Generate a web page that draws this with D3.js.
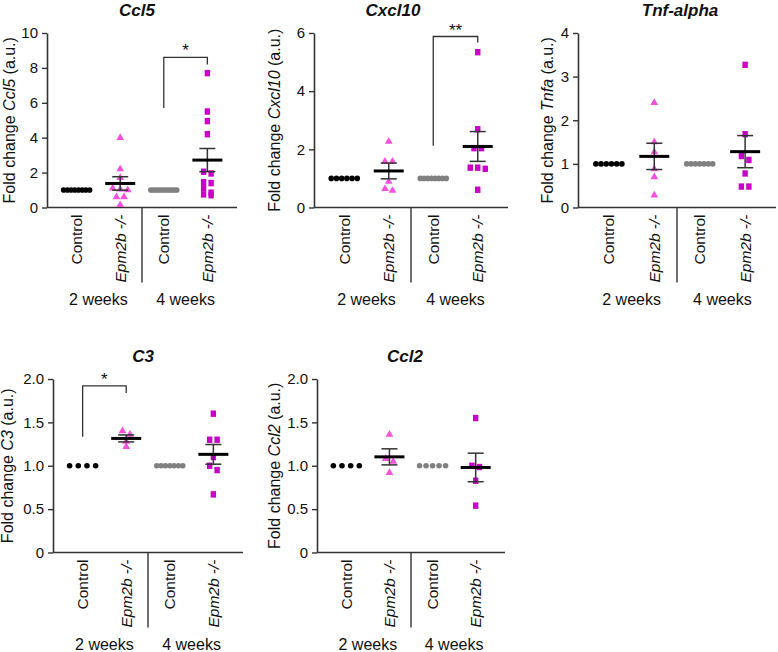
<!DOCTYPE html>
<html>
<head>
<meta charset="utf-8">
<script src="https://cdn.jsdelivr.net/npm/d3@7"></script>
<style>
body { margin:0; background:#fff; }
svg text { font-family: "Liberation Sans", Arial, sans-serif; fill:#111; }
</style>
</head>
<body>
<svg id="chart" width="778" height="652"></svg>
<script>
// ---------- data ----------
const groups = ["Control", "Epm2b -/-", "Control", "Epm2b -/-"];
const ages = ["2 weeks", "4 weeks"];
const genes = ["Ccl5", "Cxcl10", "Tnf-alpha", "C3", "Ccl2"];
const labelGenes = ["Ccl5", "Cxcl10", "Tnfa", "C3", "Ccl2"];
const yMax = [10, 6, 4, 2, 2];
const yTicks = [[0,2,4,6,8,10], [0,2,4,6], [0,1,2,3,4], [0,0.5,1,1.5,2], [0,0.5,1,1.5,2]];

const ccl5 = [
    [1,1,1,1,1,1,1,1],
    [4.0,2.2,1.7,1.1,1.05,1.0,0.6,0.6,0.15],
    [1,1,1,1,1,1,1,1,1,1,1,1],
    [7.7,5.5,4.95,4.2,2.05,1.95,1.45,1.4,1.1,0.85,0.75,0.7]
];
const cxcl10 = [
    [1,1,1,1,1,1],
    [2.27,1.58,1.58,0.89,0.64,0.58],
    [1,1,1,1,1,1,1,1],
    [5.34,2.69,2.04,2.04,1.37,1.37,1.33,0.61]
];
const tnfa = [
    [1,1,1,1,1,1],
    [2.4,1.5,1.27,0.88,0.7,0.28],
    [1,1,1,1,1,1,1],
    [3.27,1.68,1.18,1.09,0.78,0.48,0.48]
];
const c3 = [
    [1,1,1,1],
    [1.40,1.36,1.28,1.22],
    [1,1,1,1,1,1,1],
    [1.6,1.3,1.3,1.1,1.0,0.95,0.67]
];
const ccl2 = [
    [1,1,1,1],
    [1.36,1.08,1.05,0.92],
    [1,1,1,1,1],
    [1.55,1.0,0.985,0.827,0.54]
];
const allData = [ccl5, cxcl10, tnfa, c3, ccl2];

// significance brackets (group indices, label, y values of the bracket)
const sigPanel = [0, 1, 3];
const sigFrom  = [2, 2, 0];
const sigTo    = [3, 3, 1];
const sigLabel = ["*", "**", "*"];
const sigBase  = [5.7, 2.12, 1.335];
const sigTop   = [8.6, 5.88, 1.92];
const sigEnd   = [8.2, 5.67, 1.84];

// ---------- layout ----------
const panels = [
    {left: 47,  top: 33,  width: 190, height: 174.5, labelGap: 32, titleX: 90},
    {left: 314, top: 33,  width: 194, height: 174.5, labelGap: 34, titleX: 79},
    {left: 578, top: 33,  width: 198, height: 174.5, labelGap: 25, titleX: 102},
    {left: 53,  top: 379, width: 190, height: 173.5, labelGap: 40, titleX: 90},
    {left: 317, top: 379, width: 188, height: 173.5, labelGap: 37, titleX: 88}
];
const AXISCOLOUR = "#333";
const DOTCOLOURS = ["#000", null, "#808080", null];
const TRICOLOUR = "#f550dc";
const SQCOLOUR = "#c800c8";

var svg = d3.select("#chart");

panels.forEach(function(p, pi){
    var g = svg.append("g").attr("transform", "translate(" + p.left + "," + p.top + ")");
    var h = p.height;

    var x = d3.scalePoint().domain([0,1,2,3]).range([0, p.width]).padding(0.68);
    var y = d3.scaleLinear().domain([0, yMax[pi]]).range([h, 0]);

    var yAxis = d3.axisLeft(y)
        .tickValues(yTicks[pi])
        .tickSize(5)
        .tickSizeOuter(0)
        .tickPadding(4)
        .tickFormat(function(d){
            if (d === 0) return "0";
            return yMax[pi] <= 2 ? d3.format(".1f")(d) : d;
        });

    var ya = g.append("g").call(yAxis);
    ya.select(".domain").attr("stroke", AXISCOLOUR).attr("stroke-width", 1.6);
    ya.selectAll(".tick line").attr("stroke", AXISCOLOUR).attr("stroke-width", 1.4);
    ya.selectAll(".tick text").attr("font-size", 15).attr("fill", "#111")
        .attr("font-family", "Liberation Sans, Arial, sans-serif");

    // x axis line
    g.append("line")
        .attr("x1", 0).attr("x2", p.width)
        .attr("y1", h).attr("y2", h)
        .attr("stroke", AXISCOLOUR).attr("stroke-width", 1.6);

    // divider between ages
    var mid = (x(1) + x(2)) / 2;
    g.append("line")
        .attr("x1", mid).attr("x2", mid)
        .attr("y1", h).attr("y2", h + 75)
        .attr("stroke", AXISCOLOUR).attr("stroke-width", 1.4);

    // category labels
    groups.forEach(function(name, i){
        var t = g.append("text")
            .attr("transform", "translate(" + x(i) + "," + (h + 7) + ") rotate(-90)")
            .attr("text-anchor", "end")
            .attr("dy", "0.35em")
            .attr("font-size", 15.5);
        if (name === "Control") {
            t.text(name);
        } else {
            t.attr("font-style", "italic").text(name);
        }
    });

    // age labels
    ages.forEach(function(a, k){
        g.append("text")
            .attr("x", (x(2*k) + x(2*k+1)) / 2)
            .attr("y", h + 97)
            .attr("text-anchor", "middle")
            .attr("font-size", 16)
            .text(a);
    });

    // title
    g.append("text")
        .attr("x", p.titleX)
        .attr("y", -17)
        .attr("text-anchor", "middle")
        .attr("font-size", 17)
        .attr("font-weight", "bold")
        .attr("font-style", "italic")
        .text(genes[pi]);

    // y label
    var yl = g.append("text")
        .attr("transform", "translate(" + (-p.labelGap) + "," + (h/2) + ") rotate(-90)")
        .attr("text-anchor", "middle")
        .attr("font-size", 16);
    yl.append("tspan").text("Fold change ");
    yl.append("tspan").attr("font-style", "italic").text(labelGenes[pi]);
    yl.append("tspan").text(" (a.u.)");

    // points
    allData[pi].forEach(function(vals, i){
        var cx = x(i);
        if (i === 0 || i === 2) {
            var n = vals.length;
            vals.forEach(function(v, j){
                var off = n > 1 ? (j - (n-1)/2) * 26 / (n-1) : 0;
                g.append("circle")
                    .attr("cx", cx + off)
                    .attr("cy", y(v))
                    .attr("r", 2.8)
                    .attr("fill", DOTCOLOURS[i]);
            });
            return;
        }
        // simple scatter packing: points close in y are put side by side
        var sorted = vals.slice().sort(function(a, b){ return b - a; });
        var clusters = [];
        sorted.forEach(function(v){
            var last = clusters[clusters.length - 1];
            if (last && Math.abs(y(v) - y(last[0])) < 5) last.push(v);
            else clusters.push([v]);
        });
        clusters.forEach(function(cl){
            cl.forEach(function(v, j){
                var px = cx + (j - (cl.length-1)/2) * 7.5;
                if (i === 1) {
                    g.append("path")
                        .attr("d", d3.symbol().type(d3.symbolTriangle).size(26)())
                        .attr("transform", "translate(" + px + "," + y(v) + ")")
                        .attr("fill", TRICOLOUR);
                } else {
                    g.append("rect")
                        .attr("x", px - 2.7).attr("y", y(v) - 3.2)
                        .attr("width", 5.4).attr("height", 6.4)
                        .attr("fill", SQCOLOUR);
                }
            });
        });

        // mean +/- SEM
        var m = d3.mean(vals);
        var sem = d3.deviation(vals) / Math.sqrt(vals.length);
        g.append("line")
            .attr("x1", cx).attr("x2", cx)
            .attr("y1", y(m - sem)).attr("y2", y(m + sem))
            .attr("stroke", AXISCOLOUR).attr("stroke-width", 1.5);
        [m - sem, m + sem].forEach(function(e){
            g.append("line")
                .attr("x1", cx - 8).attr("x2", cx + 8)
                .attr("y1", y(e)).attr("y2", y(e))
                .attr("stroke", AXISCOLOUR).attr("stroke-width", 1.5);
        });
        g.append("line")
            .attr("x1", cx - 15).attr("x2", cx + 15)
            .attr("y1", y(m)).attr("y2", y(m))
            .attr("stroke", "#000").attr("stroke-width", 3);
    });

    // significance brackets
    sigPanel.forEach(function(sp, s){
        if (sp !== pi) return;
        var x1 = x(sigFrom[s]), x2 = x(sigTo[s]);
        g.append("path")
            .attr("d", "M" + x1 + "," + y(sigBase[s]) + "V" + y(sigTop[s]) + "H" + x2 + "V" + y(sigEnd[s]))
            .attr("fill", "none")
            .attr("stroke", AXISCOLOUR).attr("stroke-width", 1.3);
        g.append("text")
            .attr("x", (x1 + x2) / 2)
            .attr("y", y(sigTop[s]) - 1)
            .attr("text-anchor", "middle")
            .attr("font-size", 17)
            .text(sigLabel[s]);
    });
});
</script>
</body>
</html>
